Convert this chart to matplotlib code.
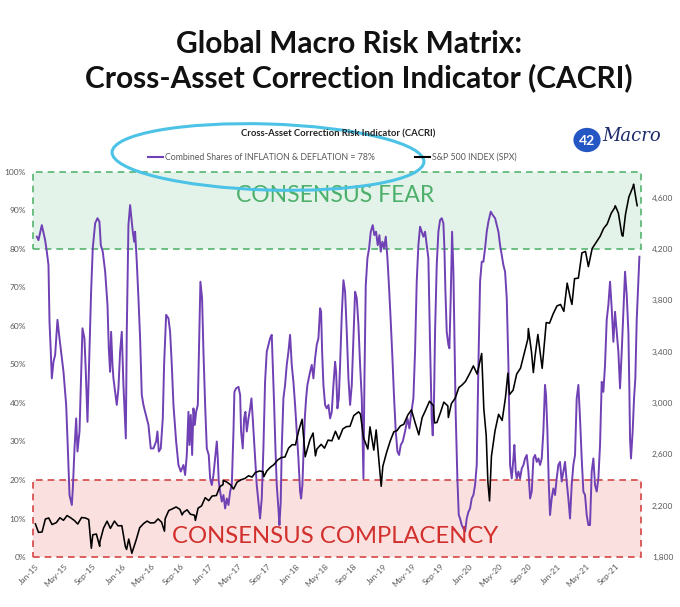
import pandas as pd
import numpy as np
import matplotlib
matplotlib.use("Agg")
import matplotlib.pyplot as plt
import matplotlib.dates as mdates
from matplotlib.patches import Ellipse, Circle

plt.rcParams['font.family'] = ['Lato', 'DejaVu Sans']

# CACRI: months after 1 Jan 2015, combined share of inflation & deflation (%)
cacri_month = [0.23, 0.46, 0.92, 1.38, 1.61, 1.84, 1.98, 2.16, 2.30, 2.53, 2.76, 3.08, 3.36, 3.68, 3.91,
               4.28, 4.51, 4.74, 5.06, 5.20, 5.43, 5.66, 5.84, 6.12, 6.30, 6.53, 6.80, 6.99, 7.22, 7.49,
               7.72, 7.95, 8.28, 8.60, 8.87, 9.06, 9.33, 9.66, 9.98, 10.16, 10.34, 10.48, 10.67, 10.80,
               11.03, 11.26, 11.49, 11.72, 11.95, 12.18, 12.51, 12.64, 12.87, 13.10,
               13.47, 13.66, 13.79, 14.02, 14.25, 14.48, 14.71, 14.94, 15.17, 15.63, 15.95, 16.32, 16.69,
               16.87, 17.06, 17.33, 17.61, 17.79, 18.07, 18.39, 18.62, 18.85, 19.08, 19.45, 19.77, 20.09,
               20.46, 20.69, 20.92, 21.15, 21.29, 21.47, 21.66, 21.84, 22.02, 22.21, 22.44, 22.62, 22.80,
               23.03, 23.22, 23.45, 23.68, 23.95, 24.14, 24.37, 24.60, 24.87, 25.06, 25.20, 25.33, 25.52,
               25.75, 25.98, 26.21, 26.44, 26.67, 26.90, 27.13, 27.36, 27.49,
               27.72, 28.05, 28.28, 28.41, 28.64, 28.83, 29.01, 29.20, 29.43, 29.66, 29.84, 30.02, 30.21,
               30.39, 30.57, 30.80, 31.03, 31.26, 31.49, 31.72, 31.95, 32.18, 32.41, 32.64, 32.78, 32.97,
               33.15, 33.33, 33.56, 33.70, 33.88, 34.02, 34.25, 34.48, 34.71, 34.94, 35.17, 35.40, 35.63,
               35.86, 36.09, 36.32, 36.55, 36.69, 36.87, 37.01, 37.20, 37.38, 37.56, 37.75, 37.93, 38.16,
               38.39, 38.62, 38.85, 39.08, 39.31, 39.45, 39.59, 39.77, 40.00, 40.23, 40.46, 40.69,
               40.92, 41.15, 41.38, 41.52, 41.70, 41.89, 42.07, 42.30, 42.53, 42.76, 42.99, 43.22, 43.45,
               43.68, 43.91, 44.14, 44.37, 44.60, 44.83, 45.06, 45.29, 45.43, 45.61, 45.84, 46.07, 46.30,
               46.57, 46.80, 47.03, 47.26, 47.49, 47.68, 47.91, 48.14, 48.37, 48.60, 48.83, 49.06, 49.29,
               49.52, 49.75, 49.98, 50.21, 50.44, 50.71, 51.03, 51.36, 51.63, 51.91, 52.18, 52.41, 52.64,
               52.87, 53.10, 53.33, 53.56, 53.79, 54.02, 54.25, 54.48, 54.71, 54.85,
               55.03, 55.17, 55.40, 55.63, 55.86, 56.09, 56.32, 56.46, 56.60, 56.78, 57.01, 57.15, 57.33,
               57.52, 57.70, 57.84, 58.02, 58.25, 58.44, 58.62, 58.85, 59.08, 59.31, 59.54, 59.77, 60.00,
               60.23, 60.46, 60.69, 60.92, 61.15, 61.38, 61.61, 61.84, 62.07, 62.30, 62.53, 62.85, 63.13,
               63.45, 63.68, 63.91, 64.14, 64.37, 64.60, 64.83, 65.06, 65.29, 65.52, 65.75, 65.98, 66.11,
               66.30, 66.44, 66.67, 66.90, 67.13, 67.36, 67.59, 67.82, 68.05, 68.28, 68.51,
               68.74, 68.97, 69.20, 69.43, 69.66, 69.89, 70.11, 70.34, 70.48, 70.67, 70.85, 71.03, 71.26,
               71.49, 71.72, 71.95, 72.18, 72.41, 72.64, 72.87, 73.10, 73.33, 73.56, 73.79, 74.02, 74.25,
               74.48, 74.71, 74.94, 75.17, 75.40, 75.63, 75.86, 76.09, 76.32, 76.55, 76.78, 77.01, 77.24,
               77.47, 77.70, 77.93, 78.16, 78.39, 78.62, 78.85, 79.08, 79.31, 79.54, 79.77, 80.00, 80.23,
               80.46, 80.69, 80.92, 81.15, 81.38, 81.61, 81.84, 81.98, 82.07, 82.20, 82.43, 82.62, 82.80,
               82.99, 83.22, 83.36]
cacri_pct = [83.2, 82.3, 86.2, 82.3, 79.3, 75.8, 61.1, 53.3, 46.4, 50.7, 52.5, 61.6, 56.8, 51.6, 48.1,
             39.5, 28.2, 16.1, 13.5, 17.8, 28.2, 36.0, 27.4, 32.6, 44.7, 59.4, 56.8, 48.1, 35.1, 53.3,
             68.9, 80.2, 86.7, 88.0, 87.1, 81.0, 79.3, 74.1, 65.5, 54.2, 48.1, 58.5, 49.9, 46.4,
             42.9, 39.5, 43.8, 53.3, 58.5, 44.7, 30.8, 58.5, 86.2, 91.4,
             84.5, 81.9, 84.5, 76.7, 67.2, 56.8, 42.1, 39.5, 37.7, 34.3, 28.2, 28.2, 30.0,
             32.6, 27.4, 28.2, 36.0, 49.9, 62.9, 62.0, 58.5, 49.9, 39.5, 30.0, 23.9, 22.2,
             23.9, 21.3, 26.5, 37.7, 29.1, 36.9, 26.5, 38.6, 34.3, 37.7, 39.5, 55.9, 71.5,
             67.2, 53.3, 39.5, 28.2, 26.5, 20.4, 18.7, 21.3, 26.5, 30.0, 25.6, 19.6, 17.0,
             14.4, 16.1, 12.6, 15.2, 13.5, 17.0, 18.7, 32.6, 42.9,
             43.8, 44.2, 42.1, 32.6, 28.2, 36.0, 37.7, 32.6, 36.0, 38.6, 41.2, 36.0, 30.0,
             23.9, 18.7, 14.4, 10.0, 15.2, 28.2, 45.5, 53.3, 55.1, 56.8, 57.7, 49.9, 39.5,
             28.2, 18.7, 12.6, 8.3, 14.4, 28.2, 41.2, 44.7, 49.9, 53.3, 57.7, 49.9, 45.5,
             39.5, 32.6, 25.6, 17.0, 15.2, 18.7, 26.5, 36.0, 41.2, 44.7, 46.4, 48.1, 49.9,
             46.4, 51.6, 55.1, 56.8, 64.6, 63.7, 53.3, 44.7, 39.5, 38.6, 39.5, 36.0,
             37.7, 44.7, 50.7, 48.1, 38.6, 41.2, 49.9, 62.9, 71.9, 68.9, 58.5, 46.4, 39.5,
             44.7, 56.8, 68.9, 67.2, 60.3, 49.9, 41.2, 20.4, 46.4, 70.6, 77.6, 80.2, 84.5,
             86.2, 83.6, 84.5, 81.0, 83.6, 79.3, 81.9, 80.2, 83.2, 77.6, 69.8, 61.1, 51.6,
             41.2, 32.6, 27.4, 26.5, 29.1, 30.0, 32.6, 36.0, 33.4, 37.7, 41.2, 53.3, 71.5,
             81.0, 85.8, 84.5, 83.2, 84.5, 81.0, 77.6, 55.0, 36.0, 31.6,
             41.2, 58.5, 75.8, 84.5, 87.5, 88.0, 86.7, 80.2, 68.9, 58.5, 55.1, 54.2, 67.2,
             84.5, 74.1, 58.5, 36.9, 20.4, 10.9, 10.0, 8.3, 7.4, 6.6, 10.0, 11.7, 12.6,
             15.2, 16.1, 18.7, 23.9, 49.9, 71.5, 76.7, 76.7, 80.2, 84.5, 87.1, 89.7, 88.8,
             88.0, 86.2, 84.5, 81.0, 78.4, 75.8, 74.1, 67.2, 49.9, 23.9, 20.4, 25.6, 29.1,
             22.2, 20.4, 22.2, 20.4, 23.0, 23.9, 25.6, 26.5, 22.2, 15.2, 17.0,
             25.6, 26.5, 24.7, 25.6, 23.9, 25.6, 32.6, 44.7, 42.1, 32.6, 19.6, 10.9, 15.2,
             17.8, 16.1, 20.4, 23.9, 24.7, 19.6, 22.2, 24.7, 19.6, 15.2, 10.0, 18.7, 23.9,
             26.5, 41.2, 44.7, 36.0, 25.6, 17.0, 16.1, 10.9, 8.3, 8.3, 22.2, 25.6, 18.7,
             17.0, 20.4, 29.1, 45.5, 42.9, 49.9, 61.6, 65.5, 71.5, 64.6, 55.9, 63.7, 58.5,
             53.3, 43.8, 53.3, 63.7, 74.1, 68.1, 58.5, 42.9, 30.8, 25.6, 32.6, 41.2, 46.4,
             61.6, 71.5, 78.0]

# S&P 500 index closes
spx_date = ["2015-01-02", "2015-01-15", "2015-01-30", "2015-02-13", "2015-02-27", "2015-03-13", "2015-03-31",
            "2015-04-15", "2015-04-30", "2015-05-15", "2015-05-29", "2015-06-15", "2015-06-29", "2015-07-15",
            "2015-07-31", "2015-08-14", "2015-08-25", "2015-08-31", "2015-09-15", "2015-09-29", "2015-09-30",
            "2015-10-15", "2015-10-30", "2015-11-13", "2015-11-30", "2015-12-15", "2015-12-31",
            "2016-01-15", "2016-01-20", "2016-01-29", "2016-02-11", "2016-02-29", "2016-03-15", "2016-03-31",
            "2016-04-15", "2016-04-29", "2016-05-16", "2016-05-31", "2016-06-15", "2016-06-27", "2016-06-30",
            "2016-07-15", "2016-07-29", "2016-08-15", "2016-08-31", "2016-09-09", "2016-09-15", "2016-09-30",
            "2016-10-14", "2016-10-31", "2016-11-04", "2016-11-15", "2016-11-30", "2016-12-15", "2016-12-30",
            "2017-01-13", "2017-01-31", "2017-02-15", "2017-02-28", "2017-03-01", "2017-03-15", "2017-03-31",
            "2017-04-13", "2017-04-28", "2017-05-15", "2017-05-31", "2017-06-15", "2017-06-30", "2017-07-14",
            "2017-07-31", "2017-08-15", "2017-08-18", "2017-08-31", "2017-09-15", "2017-09-29", "2017-10-16",
            "2017-10-31", "2017-11-15", "2017-11-30", "2017-12-15", "2017-12-29",
            "2018-01-12", "2018-01-26", "2018-02-08", "2018-02-28", "2018-03-13", "2018-03-23", "2018-03-29",
            "2018-04-16", "2018-04-30", "2018-05-15", "2018-05-31", "2018-06-15", "2018-06-29", "2018-07-16",
            "2018-07-31", "2018-08-15", "2018-08-31", "2018-09-20", "2018-09-28", "2018-10-11", "2018-10-29",
            "2018-11-07", "2018-11-23", "2018-12-03", "2018-12-24", "2018-12-31",
            "2019-01-15", "2019-01-31", "2019-02-15", "2019-02-28", "2019-03-15", "2019-03-29", "2019-04-15",
            "2019-04-30", "2019-05-15", "2019-05-31", "2019-06-14", "2019-06-28", "2019-07-15", "2019-07-31",
            "2019-08-05", "2019-08-15", "2019-08-30", "2019-09-13", "2019-09-30", "2019-10-02", "2019-10-15",
            "2019-10-31", "2019-11-15", "2019-11-29", "2019-12-13", "2019-12-31",
            "2020-01-15", "2020-01-31", "2020-02-19", "2020-02-28", "2020-03-09", "2020-03-16", "2020-03-23",
            "2020-03-31", "2020-04-15", "2020-04-30", "2020-05-15", "2020-05-29", "2020-06-08", "2020-06-15",
            "2020-06-30", "2020-07-15", "2020-07-31", "2020-08-14", "2020-08-31", "2020-09-02", "2020-09-15",
            "2020-09-23", "2020-09-30", "2020-10-12", "2020-10-30", "2020-11-16", "2020-11-30", "2020-12-15",
            "2020-12-31",
            "2021-01-15", "2021-01-29", "2021-02-12", "2021-02-26", "2021-03-04", "2021-03-15", "2021-03-31",
            "2021-04-15", "2021-04-30", "2021-05-12", "2021-05-28", "2021-06-15", "2021-06-30", "2021-07-15",
            "2021-07-30", "2021-08-16", "2021-08-31", "2021-09-02", "2021-09-15", "2021-09-30", "2021-10-04",
            "2021-10-15", "2021-10-29", "2021-11-15", "2021-11-18", "2021-11-30", "2021-12-03"]
spx_close = [2058, 1992, 1995, 2096, 2104, 2053, 2068,
             2106, 2086, 2123, 2107, 2084, 2057, 2108,
             2104, 2092, 1868, 1973, 1979, 1884, 1920,
             2024, 2079, 2023, 2080, 2043, 2044,
             1880, 1859, 1940, 1829, 1932, 2028, 2060,
             2080, 2065, 2067, 2097, 2071, 2001, 2099,
             2162, 2174, 2190, 2171, 2128, 2148, 2168,
             2133, 2126, 2085, 2180, 2199, 2262, 2239,
             2275, 2279, 2349, 2364, 2396, 2385, 2363,
             2329, 2384, 2402, 2412, 2433, 2423, 2459,
             2470, 2465, 2425, 2471, 2500, 2519, 2557,
             2575, 2579, 2648, 2675, 2674,
             2786, 2873, 2581, 2714, 2766, 2588, 2641,
             2678, 2648, 2711, 2705, 2780, 2718, 2798,
             2816, 2818, 2902, 2931, 2914, 2728, 2641,
             2814, 2633, 2790, 2351, 2507,
             2610, 2704, 2775, 2784, 2822, 2834, 2907,
             2946, 2850, 2752, 2886, 2942, 3014, 2980,
             2845, 2848, 2926, 3007, 2977, 2887, 2996,
             3038, 3120, 3141, 3168, 3231,
             3289, 3226, 3386, 2954, 2747, 2386, 2237,
             2585, 2783, 2912, 2864, 3044, 3232, 3066,
             3100, 3226, 3271, 3373, 3500, 3580, 3401,
             3237, 3363, 3534, 3270, 3627, 3622, 3694,
             3756,
             3768, 3714, 3934, 3811, 3768, 3969, 3973,
             4170, 4181, 4063, 4204, 4255, 4298, 4360,
             4395, 4479, 4523, 4537, 4480, 4307, 4300,
             4471, 4605, 4683, 4705, 4567, 4538]

pct_ticks = [0, 10, 20, 30, 40, 50, 60, 70, 80, 90, 100]
spx_ticks = [1800, 2200, 2600, 3000, 3400, 3800, 4200, 4600]

cacri_dates = pd.Timestamp("2015-01-01") + pd.to_timedelta(np.array(cacri_month) * 30.4375, unit="D")
spx_dates = pd.to_datetime(spx_date)

purple = "#7041b4"
grey = "#595959"

fig = plt.figure(figsize=(6.8, 6.07), dpi=100)
ax = fig.add_axes([33 / 680, 1 - 557 / 607, 608 / 680, 385 / 607])

# zones
ax.axhspan(80, 100, facecolor="#e3f3e9", edgecolor="#55b46e", linestyle=(0, (4, 3)), linewidth=1.2, clip_on=False, zorder=0)
ax.axhspan(0, 20, facecolor="#fbe0e0", edgecolor="#d64545", linestyle=(0, (4, 3)), linewidth=1.2, clip_on=False, zorder=0)

ax.plot(cacri_dates, cacri_pct, color=purple, lw=1.4, zorder=3)
ax.set_ylim(0, 100)
ax.set_xlim(pd.Timestamp("2014-12-23"), pd.Timestamp("2021-12-19"))
ax.set_yticks(pct_ticks)
ax.set_yticklabels([f"{t}%" for t in pct_ticks])

ax2 = ax.twinx()
ax2.plot(spx_dates, spx_close, color="black", lw=1.15, zorder=2)
ax2.set_ylim(1800, 4800)
ax2.set_yticks(spx_ticks)
ax2.set_yticklabels([f"{t:,}" for t in spx_ticks])

ax.xaxis.set_major_locator(mdates.MonthLocator(bymonth=[1, 5, 9]))
ax.xaxis.set_major_formatter(mdates.DateFormatter("%b-%y"))
for lab in ax.get_xticklabels():
    lab.set_rotation(45)
    lab.set_ha("right")
    lab.set_rotation_mode("anchor")

for a in (ax, ax2):
    for s in a.spines.values():
        s.set_visible(False)
    a.tick_params(length=0, labelsize=6, labelcolor=grey)
ax.tick_params(axis="y", pad=5)
ax2.tick_params(axis="y", pad=8)
ax.tick_params(axis="x", pad=4)

ax.text(0.497, 0.94, "CONSENSUS FEAR", transform=ax.transAxes, ha="center", va="center",
        color="#4caf6a", fontsize=16.5)
ax.text(0.497, 0.053, "CONSENSUS COMPLACENCY", transform=ax.transAxes, ha="center", va="center",
        color="#d2302c", fontsize=17.2)

# titles
fig.text(0.513, 1 - 44 / 607, "Global Macro Risk Matrix:", ha="center", va="center",
         fontsize=21.5, fontweight="bold", color="#111111")
fig.text(0.527, 1 - 78 / 607, "Cross-Asset Correction Indicator (CACRI)", ha="center", va="center",
         fontsize=21.5, fontweight="bold", color="#111111")
fig.text(338 / 680, 1 - 134 / 607, "Cross-Asset Correction Risk Indicator (CACRI)", ha="center", va="center",
         fontsize=6.8, fontweight="bold", color="#222222")

# legend
fig.lines.append(plt.Line2D([148 / 680, 163 / 680], [1 - 157 / 607] * 2, color=purple, lw=1.5, transform=fig.transFigure))
fig.text(165 / 680, 1 - 157 / 607, "Combined Shares of INFLATION & DEFLATION = 78%", ha="left", va="center",
         fontsize=6.3, color=grey)
fig.lines.append(plt.Line2D([415 / 680, 430 / 680], [1 - 157 / 607] * 2, color="black", lw=1.5, transform=fig.transFigure))
fig.text(432 / 680, 1 - 157 / 607, "S&P 500 INDEX (SPX)", ha="left", va="center", fontsize=6.3, color=grey)

# hand-drawn highlight
fig.patches.append(Ellipse((268 / 680, 1 - 157 / 607), 312 / 680, 66 / 607, angle=-2, fill=False,
                           edgecolor="#4cc3e6", lw=2.2, transform=fig.transFigure))

# logo
fig.patches.append(Circle((587 / 680, 1 - 140 / 607), 0.02, facecolor="#2456c4", edgecolor="none",
                          transform=fig.transFigure))
fig.text(587 / 680, 1 - 141 / 607, "42", ha="center", va="center", fontsize=10, fontweight="bold", color="white")
fig.text(602 / 680, 1 - 136 / 607, "Macro", ha="left", va="center", fontsize=13, style="italic",
         family="DejaVu Serif", color="#1d2a6b")

fig.savefig("out.png", dpi=100)
